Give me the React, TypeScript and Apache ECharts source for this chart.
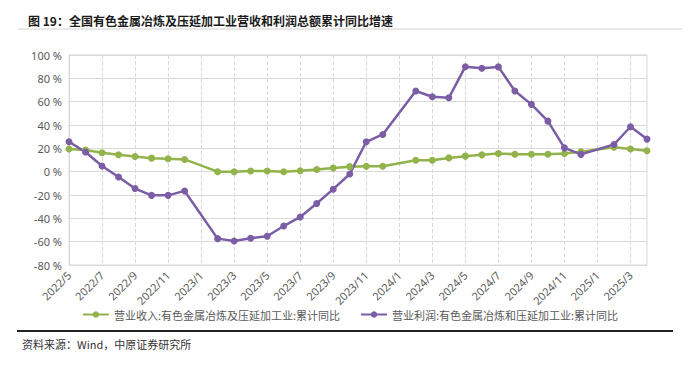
import React, { useEffect, useRef } from "react";
import * as echarts from "echarts";

const categories = [
  "2022/5", "2022/6", "2022/7", "2022/8", "2022/9", "2022/10", "2022/11", "2022/12",
  "2023/1", "2023/2", "2023/3", "2023/4", "2023/5", "2023/6", "2023/7", "2023/8",
  "2023/9", "2023/10", "2023/11", "2023/12", "2024/1", "2024/2", "2024/3", "2024/4",
  "2024/5", "2024/6", "2024/7", "2024/8", "2024/9", "2024/10", "2024/11", "2024/12",
  "2025/1", "2025/2", "2025/3", "2025/4",
];

const revenueName = "营业收入:有色金属冶炼及压延加工业:累计同比";
const profitName = "营业利润:有色金属冶炼和压延加工业:累计同比";

const revenue: (number | null)[] = [
  19.4, 18.5, 16.2, 14.5, 13, 11.6, 11, 10.5,
  null, 0, 0, 0.6, 0.6, 0, 0.8, 1.8, 3.2, 4.3, 4.6, 4.6,
  null, 9.8, 9.8, 11.8, 13.3, 14.4, 15.6, 15, 15, 15, 15.6, 17,
  null, 21, 19.5, 18,
];

const profit: (number | null)[] = [
  25.6, 16.8, 4.9, -4.6, -14.5, -20.3, -20.3, -16.5,
  null, -57.4, -59.5, -57, -55.4, -46.6, -38.8, -27.3, -15, -2, 25.6, 31.9,
  null, 69.1, 64.2, 63.3, 90, 88.6, 89.8, 69.2, 57.7, 43.3, 20.4, 14.8,
  null, 23.3, 38.5, 27.9,
];

const titleText = "图 19：全国有色金属冶炼及压延加工业营收和利润总额累计同比增速";
const sourceText = "资料来源：Wind，中原证券研究所";

export default function App() {
  const ref = useRef<HTMLDivElement>(null);
  useEffect(() => {
    if (!ref.current) return;
    const chart = echarts.init(ref.current, undefined, { renderer: "svg" });
    const cjk = "'Noto Sans CJK SC', 'Noto Sans', sans-serif";
    chart.setOption({
      animation: false,
      backgroundColor: "#ffffff",
      textStyle: { fontFamily: cjk },
      title: {
        text: titleText,
        left: 23,
        top: 9,
        textStyle: { fontSize: 12, fontWeight: "bold", color: "#1a1a1a", fontFamily: cjk },
      },
      grid: {
        left: 69,
        right: 53,
        top: 55,
        bottom: 103,
        show: true,
        borderColor: "#D9D9D9",
        borderWidth: 1,
      },
      legend: {
        top: 304,
        left: "center",
        itemWidth: 26,
        itemHeight: 8,
        itemGap: 20,
        textStyle: { fontSize: 11, color: "#595959", fontFamily: cjk },
        data: [revenueName, profitName],
      },
      xAxis: {
        type: "category",
        data: categories,
        boundaryGap: false,
        axisLine: { show: true, lineStyle: { color: "#D9D9D9" } },
        axisTick: { show: false },
        axisLabel: {
          interval: 1,
          rotate: 45,
          margin: 8,
          fontSize: 11,
          color: "#595959",
          fontFamily: "'Noto Sans', sans-serif",
        },
        splitLine: {
          show: true,
          interval: 1,
          lineStyle: { color: "#D9D9D9", type: "dashed" },
        },
      },
      yAxis: {
        type: "value",
        min: -80,
        max: 100,
        interval: 20,
        axisLine: { show: true, lineStyle: { color: "#D9D9D9" } },
        axisTick: { show: false },
        axisLabel: {
          margin: 7,
          fontSize: 11,
          color: "#595959",
          fontFamily: "'Noto Sans', sans-serif",
          formatter: (v: number) => `${v} %`,
        },
        splitLine: { show: true, lineStyle: { color: "#D9D9D9" } },
      },
      series: [
        {
          name: revenueName,
          type: "line",
          data: revenue,
          connectNulls: true,
          symbol: "circle",
          symbolSize: 7,
          color: "#92B24A",
          lineStyle: { width: 2.5, color: "#92B24A" },
          itemStyle: { color: "#92B24A" },
        },
        {
          name: profitName,
          type: "line",
          data: profit,
          connectNulls: true,
          symbol: "circle",
          symbolSize: 7,
          color: "#7B5DA6",
          lineStyle: { width: 2.5, color: "#7B5DA6" },
          itemStyle: { color: "#7B5DA6" },
        },
      ],
      graphic: [
        {
          type: "line",
          shape: { x1: 18, y1: 29, x2: 682, y2: 29 },
          style: { stroke: "#D0D0D0", lineWidth: 1 },
        },
        {
          type: "line",
          shape: { x1: 17, y1: 331, x2: 673, y2: 331 },
          style: { stroke: "#222222", lineWidth: 2 },
        },
        {
          type: "text",
          x: 22,
          y: 344,
          style: {
            text: sourceText,
            fontSize: 11,
            fill: "#333333",
            fontFamily: cjk,
            verticalAlign: "middle",
          },
        },
      ],
    });
    return () => chart.dispose();
  }, []);
  return (
    <div
      ref={ref}
      style={{ position: "absolute", left: 0, top: 0, width: 700, height: 368 }}
    />
  );
}
